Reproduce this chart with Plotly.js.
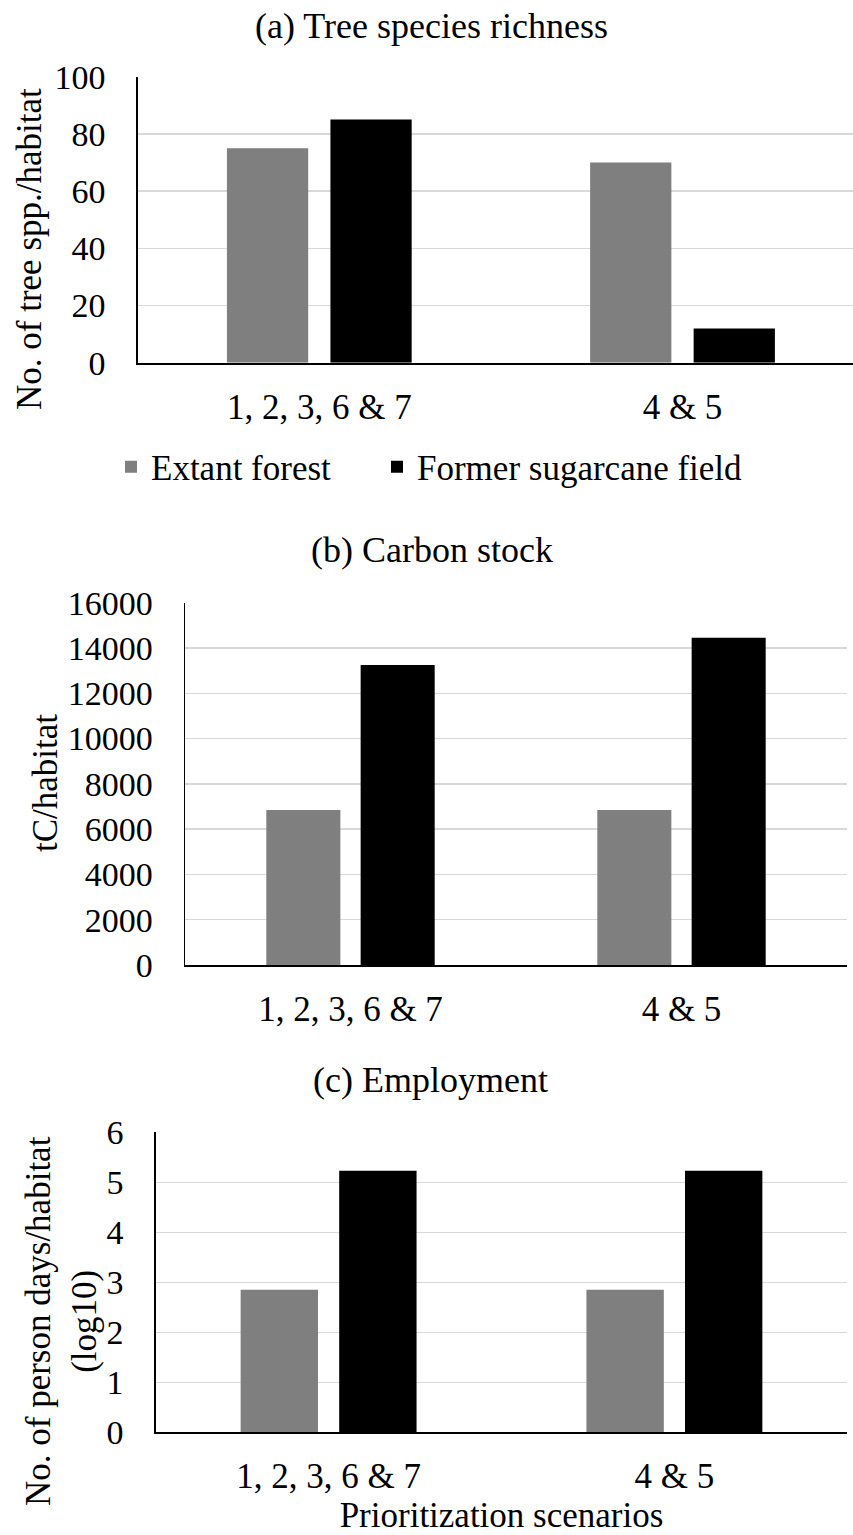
<!DOCTYPE html>
<html>
<head>
<meta charset="utf-8">
<script src="https://cdn.plot.ly/plotly-3.0.1.min.js"></script>
<style>
  html, body { margin: 0; padding: 0; background: #ffffff; }
  #chart { width: 853px; height: 1535px; }
</style>
</head>
<body>
<div id="chart"></div>
<script>
// ---- Data ----
const categories = ['1, 2, 3, 6 & 7', '4 & 5'];
const seriesNames = ['Extant forest', 'Former sugarcane field'];

const richnessExtant = [75, 70];
const richnessFormer = [85, 12];

const carbonExtant = [6850, 6850];
const carbonFormer = [13250, 14450];

const employmentExtant = [2.85, 2.85];
const employmentFormer = [5.23, 5.23];

const panelTitles = ['(a) Tree species richness', '(b) Carbon stock', '(c) Employment'];
const yTitles = ['No. of tree spp./habitat', 'tC/habitat', 'No. of person days/habitat<br>(log10)'];
const xTitle = 'Prioritization scenarios';

// ---- Styling ----
const W = 853, H = 1535;
const FONT = 'Liberation Serif, Times New Roman, serif';
const colExtant = '#7f7f7f';
const colFormer = '#000000';
const px = v => v / W;
const py = v => 1 - v / H;

function bar(name, y, color, xa, ya, show, legendId) {
  const t = {
    type: 'bar', name: name, x: categories, y: y,
    xaxis: xa, yaxis: ya,
    marker: { color: color, line: { width: 0 } },
    showlegend: show,
    hoverinfo: 'x+y+name'
  };
  if (legendId) t.legend = legendId;
  return t;
}

const data = [
  bar(seriesNames[0], richnessExtant, colExtant, 'x', 'y', true, 'legend'),
  bar(seriesNames[1], richnessFormer, colFormer, 'x', 'y', true, 'legend2'),
  bar(seriesNames[0], carbonExtant, colExtant, 'x2', 'y2', false),
  bar(seriesNames[1], carbonFormer, colFormer, 'x2', 'y2', false),
  bar(seriesNames[0], employmentExtant, colExtant, 'x3', 'y3', false),
  bar(seriesNames[1], employmentFormer, colFormer, 'x3', 'y3', false)
];

const tickFont = { family: FONT, size: 34, color: '#000' };
const catFont = { family: FONT, size: 35, color: '#000' };

function xAxis(domain, anchor, range, extra) {
  return Object.assign({
    domain: domain, anchor: anchor, type: 'category', range: range,
    showline: true, linecolor: '#000', linewidth: 2,
    showgrid: false, zeroline: false, ticks: '',
    tickfont: catFont, ticklabelstandoff: 12, fixedrange: true
  }, extra || {});
}
function yAxis(domain, anchor, range, dtick) {
  return {
    domain: domain, anchor: anchor, range: range, dtick: dtick, tick0: 0,
    tickformat: 'd',
    showline: true, linecolor: '#000', linewidth: 1.5,
    showgrid: true, gridcolor: '#d9d9d9', gridwidth: 1.5,
    zeroline: false, ticks: '',
    tickfont: tickFont, ticklabelstandoff: 24, fixedrange: true
  };
}

const annFont = { family: FONT, size: 35, color: '#000' };
const titleFont = { family: FONT, size: 36, color: '#000' };
function ann(text, x, y, angle, font) {
  return {
    text: text, xref: 'paper', yref: 'paper', x: px(x), y: py(y),
    xanchor: 'center', yanchor: 'middle', showarrow: false,
    textangle: angle || 0, font: font || annFont
  };
}

const legendBase = {
  orientation: 'h', xanchor: 'left', y: py(467), yanchor: 'middle',
  font: { family: FONT, size: 35, color: '#000' },
  bgcolor: 'rgba(0,0,0,0)'
};

const layout = {
  width: W, height: H,
  margin: { l: 0, r: 0, t: 0, b: 0, pad: 0 },
  paper_bgcolor: '#ffffff', plot_bgcolor: '#ffffff',
  font: { family: FONT, color: '#000' },
  barmode: 'group', bargap: 0.43, bargroupgap: 0.215,
  showlegend: true,
  legend: Object.assign({ x: px(111) }, legendBase),
  legend2: Object.assign({ x: px(377) }, legendBase),
  xaxis: xAxis([px(137.7), 1], 'y', [-0.5, 1.4694]),
  yaxis: yAxis([py(362.7), py(76.7)], 'x', [0, 100], 20),
  xaxis2: xAxis([px(185), px(847)], 'y2', [-0.5, 1.5]),
  yaxis2: yAxis([py(965), py(602.7)], 'x2', [0, 16000], 2000),
  xaxis3: xAxis([px(155.7), px(847.3)], 'y3', [-0.5, 1.5], {
    title: { text: xTitle, font: annFont, standoff: 24 }
  }),
  yaxis3: yAxis([py(1432.3), py(1132.3)], 'x3', [0, 6], 1),
  annotations: [
    ann(panelTitles[0], 432, 26, 0, titleFont),
    ann(panelTitles[1], 432, 550, 0, titleFont),
    ann(panelTitles[2], 431, 1080, 0, titleFont),
    ann(yTitles[0], 29, 249, -90),
    ann(yTitles[1], 45, 783, -90),
    ann(yTitles[2], 61, 1321, -90)
  ]
};

Plotly.newPlot('chart', data, layout, { displayModeBar: false, staticPlot: true });
</script>
</body>
</html>
